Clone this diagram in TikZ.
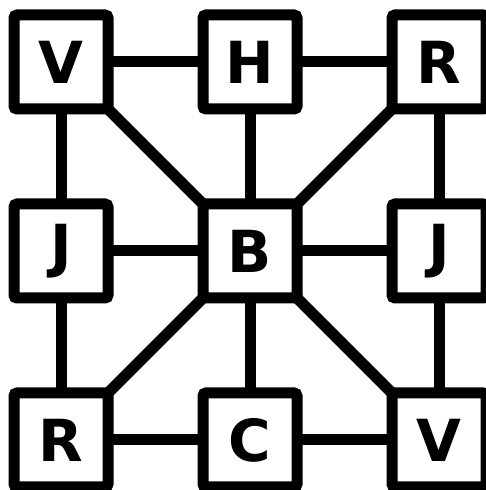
\documentclass[tikz,border=0pt]{standalone}
\usepackage{fontspec}
\setmainfont{DejaVu Sans}
\usetikzlibrary{positioning}

\begin{document}
\begin{tikzpicture}[
  x=1pt, y=1pt,
  font=\fontsize{58}{58}\selectfont\bfseries,
  cell/.style={draw, line width=11pt, rounded corners=3pt, fill=white, minimum size=94pt, inner sep=0pt, outer sep=0pt},
  link/.style={line width=11pt}
]
\useasboundingbox (0,0) rectangle (485,490);

\node[cell] (v1) at (61,428) {V};
\node[cell] (h)  at (250,428) {H};
\node[cell] (r1) at (439,428) {R};
\node[cell] (j1) at (61,239) {J};
\node[cell] (b)  at (250,239) {B};
\node[cell] (j2) at (439,239) {J};
\node[cell] (r2) at (61,50) {R};
\node[cell] (c)  at (250,50) {C};
\node[cell] (v2) at (439,50) {V};

% outer ring
\draw[link] (v1) -- (h);
\draw[link] (h) -- (r1);
\draw[link] (r1) -- (j2);
\draw[link] (j2) -- (v2);
\draw[link] (v2) -- (c);
\draw[link] (c) -- (r2);
\draw[link] (r2) -- (j1);
\draw[link] (j1) -- (v1);

% spokes
\draw[link] (b) -- (h);
\draw[link] (b) -- (j2);
\draw[link] (b) -- (c);
\draw[link] (b) -- (j1);
\draw[link] (b.north west) -- (v1.south east);
\draw[link] (b.north east) -- (r1.south west);
\draw[link] (b.south east) -- (v2.north west);
\draw[link] (b.south west) -- (r2.north east);
\end{tikzpicture}
\end{document}
